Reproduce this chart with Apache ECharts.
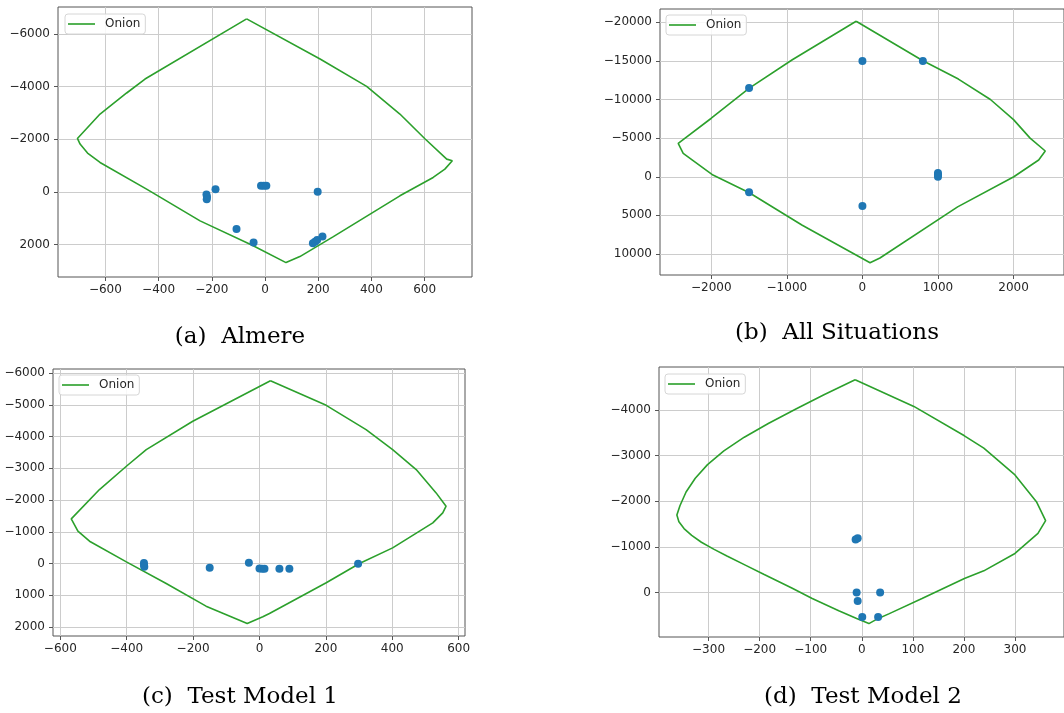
<!DOCTYPE html>
<html>
<head>
<meta charset="utf-8">
<script src="https://cdn.jsdelivr.net/npm/echarts@6/dist/echarts.min.js"></script>
<style>
html,body{margin:0;padding:0;background:#fff;}
#chart{width:1064px;height:713px;}
</style>
</head>
<body>
<div id="chart"></div>
<script>
// ---- Panel captions ----
const captions = ['(a)  Almere', '(b)  All Situations', '(c)  Test Model 1', '(d)  Test Model 2'];
const legendName = 'Onion';

// ---- (a) Almere ----
const almereOnion = [
  [-69,-6578],[207,-5054],[382,-4013],[507,-2959],[601,-2019],[683,-1244],[704,-1181],
  [676,-863],[632,-546],[507,152],[257,1702],[131,2463],[79,2692],
  [-48,2032],[-244,1105],[-445,-102],[-620,-1117],[-667,-1473],[-695,-1816],[-705,-2030],
  [-620,-2959],[-520,-3759],[-451,-4290],[-69,-6578]
];
const almerePoints = [
  [-220,100],[-218,200],[-219,280],[-186,-100],[-15,-230],[-5,-230],[5,-230],
  [198,0],[-107,1410],[-43,1930],[180,1960],[188,1900],[196,1830],[216,1700]
];
const almereXTicks = [-600,-400,-200,0,200,400,600];
const almereYTicks = [-6000,-4000,-2000,0,2000];

// ---- (b) All Situations ----
const allOnion = [
  [-83,-20130],[801,-15022],[1270,-12650],[1694,-10000],[2000,-7400],[2219,-5000],[2420,-3333],
  [2333,-2165],[2004,0],[1260,3896],[232,10519],[101,11126],
  [-796,6277],[-1497,2078],[-1978,-216],[-2372,-3030],[-2438,-4329],
  [-2000,-7576],[-1497,-11470],[-928,-15150],[-83,-20130]
];
const allPoints = [
  [0,-15000],[800,-15000],[-1500,-11500],[-1500,2000],[0,3800],[1000,-500],[1000,-250],[1000,0]
];
const allXTicks = [-2000,-1000,0,1000,2000];
const allYTicks = [-20000,-15000,-10000,-5000,0,5000,10000];

// ---- (c) Test Model 1 ----
const tm1Onion = [
  [33,-5758],[201,-4982],[321,-4217],[401,-3587],[472,-2958],[532,-2224],[562,-1804],
  [552,-1594],[522,-1280],[401,-493],[301,0],[201,608],[30,1573],[10,1678],[-37,1888],
  [-161,1343],[-281,629],[-401,-52],[-512,-703],[-547,-1017],[-567,-1405],
  [-482,-2329],[-401,-3063],[-341,-3587],[-201,-4479],[33,-5758]
];
const tm1Points = [
  [-348,-20],[-348,50],[-347,100],[-150,136],[-32,-21],[0,160],[8,165],[15,165],
  [60,168],[90,168],[297,10]
];
const tm1XTicks = [-600,-400,-200,0,200,400,600];
const tm1YTicks = [-6000,-5000,-4000,-3000,-2000,-1000,0,1000,2000];

// ---- (d) Test Model 2 ----
const tm2Onion = [
  [-13,-4658],[102,-4073],[201,-3430],[239,-3159],[300,-2574],[342,-1989],[360,-1572],
  [345,-1294],[300,-856],[239,-475],[201,-307],[118,132],[54,461],[28,592],[14,680],
  [-10,570],[-45,400],[-97,132],[-137,-100],[-192,-400],[-228,-600],[-264,-800],
  [-290,-950],[-314,-1100],[-333,-1250],[-348,-1400],[-358,-1550],[-362,-1697],
  [-356,-1900],[-344,-2200],[-326,-2500],[-302,-2800],[-270,-3100],[-230,-3400],
  [-183,-3700],[-128,-4022],[-74,-4329],[-13,-4658]
];
const tm2Points = [
  [-12,-1160],[-8,-1190],[-10,0],[-8,183],[36,0],[1,534],[32,534]
];
const tm2XTicks = [-300,-200,-100,0,100,200,300];
const tm2YTicks = [-4000,-3000,-2000,-1000,0];

// ---- layout (pixels) ----
const panels = [
  {grid:{left:58, top:7, width:414, height:270}, x:[-778,778], y:[-7030,3240], xt:almereXTicks, yt:almereYTicks, onion:almereOnion, pts:almerePoints, legend:{left:65, top:14}, cap:{x:240, y:337}},
  {grid:{left:660, top:9, width:407, height:266}, x:[-2679,2668], y:[-21720,12720], xt:allXTicks, yt:allYTicks, onion:allOnion, pts:allPoints, legend:{left:666, top:15}, cap:{x:837, y:333}},
  {grid:{left:53, top:369, width:412, height:267}, x:[-622,619], y:[-6126,2283], xt:tm1XTicks, yt:tm1YTicks, onion:tm1Onion, pts:tm1Points, legend:{left:59, top:375}, cap:{x:240, y:697}},
  {grid:{left:659, top:367, width:413, height:270}, x:[-397,396], y:[-4936,973], xt:tm2XTicks, yt:tm2YTicks, onion:tm2Onion, pts:tm2Points, legend:{left:665, top:374}, cap:{x:863, y:697}}
];

const fmt = v => String(v).replace('-', '\u2212');
const spine = '#555';
const gridCol = '#cccccc';
const labelStyle = {color:'#262626', fontSize:12, fontFamily:'DejaVu Sans'};

const option = {
  animation:false,
  backgroundColor:'#fff',
  grid: panels.map(p => Object.assign({show:true, borderColor:spine, borderWidth:1, backgroundColor:'transparent'}, p.grid)),
  xAxis: panels.map((p,i) => ({
    type:'value', gridIndex:i, min:p.x[0], max:p.x[1], position:'bottom',
    axisLine:{show:false, onZero:false},
    axisTick:{show:true, inside:false, length:4, lineStyle:{color:spine}, customValues:p.xt},
    axisLabel:Object.assign({margin:7, formatter:fmt, customValues:p.xt, showMinLabel:true, showMaxLabel:true}, labelStyle),
    splitLine:{show:true, lineStyle:{color:gridCol, width:1}}
  })),
  yAxis: panels.map((p,i) => ({
    type:'value', gridIndex:i, min:p.y[0], max:p.y[1], inverse:true, position:'left',
    axisLine:{show:false, onZero:false},
    axisTick:{show:true, inside:false, length:4, lineStyle:{color:spine}, customValues:p.yt},
    axisLabel:Object.assign({margin:8, formatter:fmt, customValues:p.yt, showMinLabel:true, showMaxLabel:true}, labelStyle),
    splitLine:{show:true, lineStyle:{color:gridCol, width:1}}
  })),
  legend: panels.map(p => ({
    left:p.legend.left, top:p.legend.top,
    data:[{name:legendName, icon:'path://M0,0H100V6H0Z', itemStyle:{color:'#2ca02c', borderWidth:0}}],
    orient:'vertical', symbolKeepAspect:true,
    backgroundColor:'rgba(255,255,255,0.85)', borderColor:'#d6d6d6', borderWidth:1, borderRadius:3,
    padding:[4,5,4,3], itemWidth:27, itemHeight:12, itemGap:5,
    textStyle:{color:'#262626', fontSize:12, fontFamily:'DejaVu Sans', padding:[0,0,0,5]},
    selectedMode:false
  })),
  series: [].concat(
    panels.map((p,i) => ({
      name:legendName, type:'line', xAxisIndex:i, yAxisIndex:i, data:p.onion,
      symbol:'none', smooth:false, lineStyle:{color:'#2ca02c', width:1.6}, itemStyle:{color:'#2ca02c'}, z:2
    })),
    panels.map((p,i) => ({
      name:'points'+i, type:'scatter', xAxisIndex:i, yAxisIndex:i, data:p.pts,
      symbol:'circle', symbolSize:8, itemStyle:{color:'#1f77b4', opacity:1}, z:3
    }))
  ),
  graphic: panels.map((p,i) => ({
    type:'text', x:p.cap.x, y:p.cap.y,
    style:{text:captions[i], fill:'#000', font:'23px "DejaVu Serif"', textAlign:'center', textVerticalAlign:'middle'}
  }))
};

const chart = echarts.init(document.getElementById('chart'), null, {renderer:'canvas'});
chart.setOption(option);
</script>
</body>
</html>
